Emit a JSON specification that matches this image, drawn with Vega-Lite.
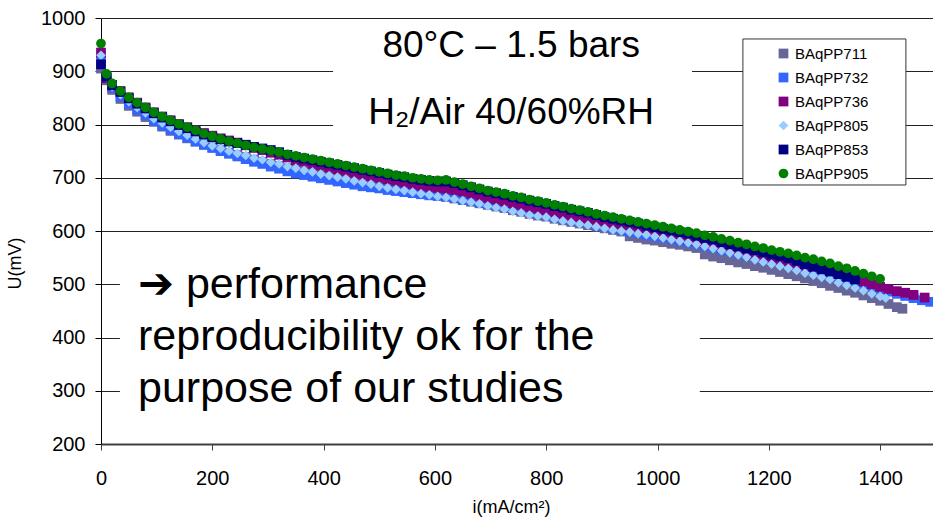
{
"$schema":"https://vega.github.io/schema/vega-lite/v6.json",
"width":832,"height":426,
"autosize":{"type":"none"},
"padding":{"left":101,"top":18,"right":0,"bottom":74},
"background":"white",
"config":{"view":{"stroke":null},"font":"Liberation Sans"},
"data":{"values":[
{"s":"BAqPP711","i":0,"u":905},{"s":"BAqPP711","i":10,"u":883},{"s":"BAqPP711","i":20,"u":865},{"s":"BAqPP711","i":35,"u":848},{"s":"BAqPP711","i":50,"u":835},{"s":"BAqPP711","i":65,"u":824},{"s":"BAqPP711","i":80,"u":814},{"s":"BAqPP711","i":95,"u":805},{"s":"BAqPP711","i":110,"u":796},{"s":"BAqPP711","i":125,"u":788},{"s":"BAqPP711","i":140,"u":781},{"s":"BAqPP711","i":155,"u":774},{"s":"BAqPP711","i":170,"u":768},{"s":"BAqPP711","i":185,"u":762},{"s":"BAqPP711","i":200,"u":757},{"s":"BAqPP711","i":215,"u":752},{"s":"BAqPP711","i":230,"u":747},{"s":"BAqPP711","i":245,"u":743},{"s":"BAqPP711","i":260,"u":739},{"s":"BAqPP711","i":275,"u":734},{"s":"BAqPP711","i":290,"u":730},{"s":"BAqPP711","i":305,"u":726},{"s":"BAqPP711","i":320,"u":722},{"s":"BAqPP711","i":335,"u":718},{"s":"BAqPP711","i":350,"u":715},{"s":"BAqPP711","i":365,"u":712},{"s":"BAqPP711","i":380,"u":709},{"s":"BAqPP711","i":395,"u":706},{"s":"BAqPP711","i":410,"u":703},{"s":"BAqPP711","i":425,"u":700},{"s":"BAqPP711","i":440,"u":697},{"s":"BAqPP711","i":455,"u":695},{"s":"BAqPP711","i":470,"u":692},{"s":"BAqPP711","i":485,"u":689},{"s":"BAqPP711","i":500,"u":686},{"s":"BAqPP711","i":515,"u":683},{"s":"BAqPP711","i":530,"u":680},{"s":"BAqPP711","i":545,"u":677},{"s":"BAqPP711","i":560,"u":674},{"s":"BAqPP711","i":575,"u":671},{"s":"BAqPP711","i":590,"u":669},{"s":"BAqPP711","i":605,"u":666},{"s":"BAqPP711","i":620,"u":664},{"s":"BAqPP711","i":635,"u":661},{"s":"BAqPP711","i":650,"u":658},{"s":"BAqPP711","i":665,"u":655},{"s":"BAqPP711","i":680,"u":652},{"s":"BAqPP711","i":695,"u":649},{"s":"BAqPP711","i":710,"u":646},{"s":"BAqPP711","i":725,"u":643},{"s":"BAqPP711","i":740,"u":639},{"s":"BAqPP711","i":755,"u":636},{"s":"BAqPP711","i":770,"u":632},{"s":"BAqPP711","i":785,"u":629},{"s":"BAqPP711","i":800,"u":627},{"s":"BAqPP711","i":815,"u":623},{"s":"BAqPP711","i":830,"u":620},{"s":"BAqPP711","i":845,"u":617},{"s":"BAqPP711","i":860,"u":614},{"s":"BAqPP711","i":875,"u":611},{"s":"BAqPP711","i":890,"u":608},{"s":"BAqPP711","i":905,"u":605},{"s":"BAqPP711","i":920,"u":602},{"s":"BAqPP711","i":935,"u":599},{"s":"BAqPP711","i":950,"u":590},{"s":"BAqPP711","i":965,"u":587},{"s":"BAqPP711","i":980,"u":584},{"s":"BAqPP711","i":995,"u":582},{"s":"BAqPP711","i":1010,"u":579},{"s":"BAqPP711","i":1025,"u":576},{"s":"BAqPP711","i":1040,"u":574},{"s":"BAqPP711","i":1055,"u":571},{"s":"BAqPP711","i":1070,"u":568},{"s":"BAqPP711","i":1085,"u":556},{"s":"BAqPP711","i":1100,"u":552},{"s":"BAqPP711","i":1115,"u":549},{"s":"BAqPP711","i":1130,"u":545},{"s":"BAqPP711","i":1145,"u":541},{"s":"BAqPP711","i":1160,"u":538},{"s":"BAqPP711","i":1175,"u":534},{"s":"BAqPP711","i":1190,"u":531},{"s":"BAqPP711","i":1205,"u":527},{"s":"BAqPP711","i":1220,"u":523},{"s":"BAqPP711","i":1235,"u":519},{"s":"BAqPP711","i":1250,"u":515},{"s":"BAqPP711","i":1265,"u":511},{"s":"BAqPP711","i":1280,"u":506},{"s":"BAqPP711","i":1295,"u":502},{"s":"BAqPP711","i":1310,"u":497},{"s":"BAqPP711","i":1325,"u":493},{"s":"BAqPP711","i":1340,"u":488},{"s":"BAqPP711","i":1355,"u":484},{"s":"BAqPP711","i":1370,"u":479},{"s":"BAqPP711","i":1385,"u":474},{"s":"BAqPP711","i":1400,"u":469},{"s":"BAqPP711","i":1415,"u":463},{"s":"BAqPP711","i":1430,"u":457},{"s":"BAqPP711","i":1440,"u":454},
{"s":"BAqPP732","i":0,"u":922},{"s":"BAqPP732","i":10,"u":887},{"s":"BAqPP732","i":20,"u":869},{"s":"BAqPP732","i":35,"u":853},{"s":"BAqPP732","i":50,"u":839},{"s":"BAqPP732","i":65,"u":828},{"s":"BAqPP732","i":80,"u":818},{"s":"BAqPP732","i":95,"u":807},{"s":"BAqPP732","i":110,"u":798},{"s":"BAqPP732","i":125,"u":790},{"s":"BAqPP732","i":140,"u":782},{"s":"BAqPP732","i":155,"u":775},{"s":"BAqPP732","i":170,"u":768},{"s":"BAqPP732","i":185,"u":762},{"s":"BAqPP732","i":200,"u":756},{"s":"BAqPP732","i":215,"u":750},{"s":"BAqPP732","i":230,"u":745},{"s":"BAqPP732","i":245,"u":740},{"s":"BAqPP732","i":260,"u":735},{"s":"BAqPP732","i":275,"u":730},{"s":"BAqPP732","i":290,"u":726},{"s":"BAqPP732","i":305,"u":721},{"s":"BAqPP732","i":320,"u":717},{"s":"BAqPP732","i":335,"u":712},{"s":"BAqPP732","i":350,"u":708},{"s":"BAqPP732","i":365,"u":705},{"s":"BAqPP732","i":380,"u":702},{"s":"BAqPP732","i":395,"u":699},{"s":"BAqPP732","i":410,"u":696},{"s":"BAqPP732","i":425,"u":693},{"s":"BAqPP732","i":440,"u":690},{"s":"BAqPP732","i":455,"u":687},{"s":"BAqPP732","i":470,"u":684},{"s":"BAqPP732","i":485,"u":682},{"s":"BAqPP732","i":500,"u":680},{"s":"BAqPP732","i":515,"u":677},{"s":"BAqPP732","i":530,"u":675},{"s":"BAqPP732","i":545,"u":673},{"s":"BAqPP732","i":560,"u":671},{"s":"BAqPP732","i":575,"u":669},{"s":"BAqPP732","i":590,"u":667},{"s":"BAqPP732","i":605,"u":666},{"s":"BAqPP732","i":620,"u":665},{"s":"BAqPP732","i":635,"u":662},{"s":"BAqPP732","i":650,"u":659},{"s":"BAqPP732","i":665,"u":657},{"s":"BAqPP732","i":680,"u":654},{"s":"BAqPP732","i":695,"u":651},{"s":"BAqPP732","i":710,"u":649},{"s":"BAqPP732","i":725,"u":646},{"s":"BAqPP732","i":740,"u":643},{"s":"BAqPP732","i":755,"u":640},{"s":"BAqPP732","i":770,"u":637},{"s":"BAqPP732","i":785,"u":634},{"s":"BAqPP732","i":800,"u":631},{"s":"BAqPP732","i":815,"u":627},{"s":"BAqPP732","i":830,"u":624},{"s":"BAqPP732","i":845,"u":621},{"s":"BAqPP732","i":860,"u":618},{"s":"BAqPP732","i":875,"u":615},{"s":"BAqPP732","i":890,"u":611},{"s":"BAqPP732","i":905,"u":608},{"s":"BAqPP732","i":920,"u":605},{"s":"BAqPP732","i":935,"u":602},{"s":"BAqPP732","i":950,"u":599},{"s":"BAqPP732","i":965,"u":596},{"s":"BAqPP732","i":980,"u":593},{"s":"BAqPP732","i":995,"u":590},{"s":"BAqPP732","i":1010,"u":588},{"s":"BAqPP732","i":1025,"u":585},{"s":"BAqPP732","i":1040,"u":582},{"s":"BAqPP732","i":1055,"u":579},{"s":"BAqPP732","i":1070,"u":576},{"s":"BAqPP732","i":1085,"u":572},{"s":"BAqPP732","i":1100,"u":569},{"s":"BAqPP732","i":1115,"u":565},{"s":"BAqPP732","i":1130,"u":562},{"s":"BAqPP732","i":1145,"u":558},{"s":"BAqPP732","i":1160,"u":555},{"s":"BAqPP732","i":1175,"u":551},{"s":"BAqPP732","i":1190,"u":548},{"s":"BAqPP732","i":1205,"u":544},{"s":"BAqPP732","i":1220,"u":541},{"s":"BAqPP732","i":1235,"u":538},{"s":"BAqPP732","i":1250,"u":534},{"s":"BAqPP732","i":1265,"u":530},{"s":"BAqPP732","i":1280,"u":527},{"s":"BAqPP732","i":1295,"u":523},{"s":"BAqPP732","i":1310,"u":519},{"s":"BAqPP732","i":1325,"u":514},{"s":"BAqPP732","i":1340,"u":510},{"s":"BAqPP732","i":1355,"u":505},{"s":"BAqPP732","i":1370,"u":500},{"s":"BAqPP732","i":1385,"u":495},{"s":"BAqPP732","i":1400,"u":490},{"s":"BAqPP732","i":1415,"u":486},{"s":"BAqPP732","i":1430,"u":482},{"s":"BAqPP732","i":1445,"u":478},{"s":"BAqPP732","i":1460,"u":474},{"s":"BAqPP732","i":1475,"u":470},{"s":"BAqPP732","i":1490,"u":467},
{"s":"BAqPP736","i":0,"u":935},{"s":"BAqPP736","i":10,"u":887},{"s":"BAqPP736","i":20,"u":873},{"s":"BAqPP736","i":35,"u":863},{"s":"BAqPP736","i":50,"u":851},{"s":"BAqPP736","i":65,"u":841},{"s":"BAqPP736","i":80,"u":832},{"s":"BAqPP736","i":95,"u":823},{"s":"BAqPP736","i":110,"u":815},{"s":"BAqPP736","i":125,"u":808},{"s":"BAqPP736","i":140,"u":801},{"s":"BAqPP736","i":155,"u":795},{"s":"BAqPP736","i":170,"u":789},{"s":"BAqPP736","i":185,"u":784},{"s":"BAqPP736","i":200,"u":779},{"s":"BAqPP736","i":215,"u":774},{"s":"BAqPP736","i":230,"u":770},{"s":"BAqPP736","i":245,"u":766},{"s":"BAqPP736","i":260,"u":761},{"s":"BAqPP736","i":275,"u":756},{"s":"BAqPP736","i":290,"u":752},{"s":"BAqPP736","i":305,"u":747},{"s":"BAqPP736","i":320,"u":743},{"s":"BAqPP736","i":335,"u":738},{"s":"BAqPP736","i":350,"u":733},{"s":"BAqPP736","i":365,"u":730},{"s":"BAqPP736","i":380,"u":726},{"s":"BAqPP736","i":395,"u":723},{"s":"BAqPP736","i":410,"u":719},{"s":"BAqPP736","i":425,"u":716},{"s":"BAqPP736","i":440,"u":713},{"s":"BAqPP736","i":455,"u":709},{"s":"BAqPP736","i":470,"u":706},{"s":"BAqPP736","i":485,"u":703},{"s":"BAqPP736","i":500,"u":700},{"s":"BAqPP736","i":515,"u":697},{"s":"BAqPP736","i":530,"u":694},{"s":"BAqPP736","i":545,"u":691},{"s":"BAqPP736","i":560,"u":688},{"s":"BAqPP736","i":575,"u":685},{"s":"BAqPP736","i":590,"u":683},{"s":"BAqPP736","i":605,"u":681},{"s":"BAqPP736","i":620,"u":679},{"s":"BAqPP736","i":635,"u":677},{"s":"BAqPP736","i":650,"u":674},{"s":"BAqPP736","i":665,"u":670},{"s":"BAqPP736","i":680,"u":666},{"s":"BAqPP736","i":695,"u":662},{"s":"BAqPP736","i":710,"u":659},{"s":"BAqPP736","i":725,"u":656},{"s":"BAqPP736","i":740,"u":652},{"s":"BAqPP736","i":755,"u":649},{"s":"BAqPP736","i":770,"u":645},{"s":"BAqPP736","i":785,"u":642},{"s":"BAqPP736","i":800,"u":639},{"s":"BAqPP736","i":815,"u":635},{"s":"BAqPP736","i":830,"u":632},{"s":"BAqPP736","i":845,"u":628},{"s":"BAqPP736","i":860,"u":625},{"s":"BAqPP736","i":875,"u":622},{"s":"BAqPP736","i":890,"u":618},{"s":"BAqPP736","i":905,"u":615},{"s":"BAqPP736","i":920,"u":612},{"s":"BAqPP736","i":935,"u":609},{"s":"BAqPP736","i":950,"u":606},{"s":"BAqPP736","i":965,"u":603},{"s":"BAqPP736","i":980,"u":600},{"s":"BAqPP736","i":995,"u":597},{"s":"BAqPP736","i":1010,"u":594},{"s":"BAqPP736","i":1025,"u":591},{"s":"BAqPP736","i":1040,"u":588},{"s":"BAqPP736","i":1055,"u":584},{"s":"BAqPP736","i":1070,"u":581},{"s":"BAqPP736","i":1085,"u":577},{"s":"BAqPP736","i":1100,"u":574},{"s":"BAqPP736","i":1115,"u":570},{"s":"BAqPP736","i":1130,"u":567},{"s":"BAqPP736","i":1145,"u":563},{"s":"BAqPP736","i":1160,"u":560},{"s":"BAqPP736","i":1175,"u":556},{"s":"BAqPP736","i":1190,"u":553},{"s":"BAqPP736","i":1205,"u":549},{"s":"BAqPP736","i":1220,"u":546},{"s":"BAqPP736","i":1235,"u":543},{"s":"BAqPP736","i":1250,"u":539},{"s":"BAqPP736","i":1265,"u":535},{"s":"BAqPP736","i":1280,"u":532},{"s":"BAqPP736","i":1295,"u":528},{"s":"BAqPP736","i":1310,"u":524},{"s":"BAqPP736","i":1325,"u":519},{"s":"BAqPP736","i":1340,"u":515},{"s":"BAqPP736","i":1355,"u":510},{"s":"BAqPP736","i":1370,"u":505},{"s":"BAqPP736","i":1385,"u":500},{"s":"BAqPP736","i":1400,"u":495},{"s":"BAqPP736","i":1415,"u":491},{"s":"BAqPP736","i":1430,"u":487},{"s":"BAqPP736","i":1445,"u":484},{"s":"BAqPP736","i":1460,"u":480},{"s":"BAqPP736","i":1480,"u":475},
{"s":"BAqPP805","i":0,"u":930},{"s":"BAqPP805","i":10,"u":889},{"s":"BAqPP805","i":20,"u":871},{"s":"BAqPP805","i":35,"u":856},{"s":"BAqPP805","i":50,"u":843},{"s":"BAqPP805","i":65,"u":832},{"s":"BAqPP805","i":80,"u":822},{"s":"BAqPP805","i":95,"u":811},{"s":"BAqPP805","i":110,"u":803},{"s":"BAqPP805","i":125,"u":795},{"s":"BAqPP805","i":140,"u":787},{"s":"BAqPP805","i":155,"u":780},{"s":"BAqPP805","i":170,"u":773},{"s":"BAqPP805","i":185,"u":766},{"s":"BAqPP805","i":200,"u":760},{"s":"BAqPP805","i":215,"u":755},{"s":"BAqPP805","i":230,"u":750},{"s":"BAqPP805","i":245,"u":746},{"s":"BAqPP805","i":260,"u":742},{"s":"BAqPP805","i":275,"u":737},{"s":"BAqPP805","i":290,"u":734},{"s":"BAqPP805","i":305,"u":729},{"s":"BAqPP805","i":320,"u":726},{"s":"BAqPP805","i":335,"u":721},{"s":"BAqPP805","i":350,"u":718},{"s":"BAqPP805","i":365,"u":714},{"s":"BAqPP805","i":380,"u":711},{"s":"BAqPP805","i":395,"u":707},{"s":"BAqPP805","i":410,"u":704},{"s":"BAqPP805","i":425,"u":701},{"s":"BAqPP805","i":440,"u":698},{"s":"BAqPP805","i":455,"u":694},{"s":"BAqPP805","i":470,"u":691},{"s":"BAqPP805","i":485,"u":688},{"s":"BAqPP805","i":500,"u":684},{"s":"BAqPP805","i":515,"u":681},{"s":"BAqPP805","i":530,"u":678},{"s":"BAqPP805","i":545,"u":676},{"s":"BAqPP805","i":560,"u":673},{"s":"BAqPP805","i":575,"u":670},{"s":"BAqPP805","i":590,"u":668},{"s":"BAqPP805","i":605,"u":665},{"s":"BAqPP805","i":620,"u":663},{"s":"BAqPP805","i":635,"u":660},{"s":"BAqPP805","i":650,"u":657},{"s":"BAqPP805","i":665,"u":654},{"s":"BAqPP805","i":680,"u":651},{"s":"BAqPP805","i":695,"u":647},{"s":"BAqPP805","i":710,"u":644},{"s":"BAqPP805","i":725,"u":641},{"s":"BAqPP805","i":740,"u":637},{"s":"BAqPP805","i":755,"u":634},{"s":"BAqPP805","i":770,"u":630},{"s":"BAqPP805","i":785,"u":628},{"s":"BAqPP805","i":800,"u":626},{"s":"BAqPP805","i":815,"u":622},{"s":"BAqPP805","i":830,"u":619},{"s":"BAqPP805","i":845,"u":616},{"s":"BAqPP805","i":860,"u":613},{"s":"BAqPP805","i":875,"u":611},{"s":"BAqPP805","i":890,"u":608},{"s":"BAqPP805","i":905,"u":605},{"s":"BAqPP805","i":920,"u":602},{"s":"BAqPP805","i":935,"u":600},{"s":"BAqPP805","i":950,"u":598},{"s":"BAqPP805","i":965,"u":595},{"s":"BAqPP805","i":980,"u":593},{"s":"BAqPP805","i":995,"u":590},{"s":"BAqPP805","i":1010,"u":587},{"s":"BAqPP805","i":1025,"u":584},{"s":"BAqPP805","i":1040,"u":581},{"s":"BAqPP805","i":1055,"u":578},{"s":"BAqPP805","i":1070,"u":575},{"s":"BAqPP805","i":1085,"u":571},{"s":"BAqPP805","i":1100,"u":567},{"s":"BAqPP805","i":1115,"u":563},{"s":"BAqPP805","i":1130,"u":559},{"s":"BAqPP805","i":1145,"u":555},{"s":"BAqPP805","i":1160,"u":551},{"s":"BAqPP805","i":1175,"u":546},{"s":"BAqPP805","i":1190,"u":542},{"s":"BAqPP805","i":1205,"u":538},{"s":"BAqPP805","i":1220,"u":534},{"s":"BAqPP805","i":1235,"u":530},{"s":"BAqPP805","i":1250,"u":526},{"s":"BAqPP805","i":1265,"u":521},{"s":"BAqPP805","i":1280,"u":517},{"s":"BAqPP805","i":1295,"u":513},{"s":"BAqPP805","i":1310,"u":509},{"s":"BAqPP805","i":1325,"u":503},{"s":"BAqPP805","i":1340,"u":498},{"s":"BAqPP805","i":1355,"u":493},{"s":"BAqPP805","i":1370,"u":488},{"s":"BAqPP805","i":1385,"u":482},{"s":"BAqPP805","i":1400,"u":477},{"s":"BAqPP805","i":1410,"u":474},
{"s":"BAqPP853","i":0,"u":913},{"s":"BAqPP853","i":10,"u":890},{"s":"BAqPP853","i":20,"u":874},{"s":"BAqPP853","i":35,"u":861},{"s":"BAqPP853","i":50,"u":849},{"s":"BAqPP853","i":65,"u":839},{"s":"BAqPP853","i":80,"u":830},{"s":"BAqPP853","i":95,"u":821},{"s":"BAqPP853","i":110,"u":813},{"s":"BAqPP853","i":125,"u":806},{"s":"BAqPP853","i":140,"u":799},{"s":"BAqPP853","i":155,"u":793},{"s":"BAqPP853","i":170,"u":787},{"s":"BAqPP853","i":185,"u":781},{"s":"BAqPP853","i":200,"u":776},{"s":"BAqPP853","i":215,"u":772},{"s":"BAqPP853","i":230,"u":768},{"s":"BAqPP853","i":245,"u":765},{"s":"BAqPP853","i":260,"u":762},{"s":"BAqPP853","i":275,"u":758},{"s":"BAqPP853","i":290,"u":755},{"s":"BAqPP853","i":305,"u":752},{"s":"BAqPP853","i":320,"u":748},{"s":"BAqPP853","i":335,"u":743},{"s":"BAqPP853","i":350,"u":739},{"s":"BAqPP853","i":365,"u":736},{"s":"BAqPP853","i":380,"u":733},{"s":"BAqPP853","i":395,"u":730},{"s":"BAqPP853","i":410,"u":727},{"s":"BAqPP853","i":425,"u":724},{"s":"BAqPP853","i":440,"u":721},{"s":"BAqPP853","i":455,"u":718},{"s":"BAqPP853","i":470,"u":715},{"s":"BAqPP853","i":485,"u":712},{"s":"BAqPP853","i":500,"u":709},{"s":"BAqPP853","i":515,"u":706},{"s":"BAqPP853","i":530,"u":703},{"s":"BAqPP853","i":545,"u":701},{"s":"BAqPP853","i":560,"u":698},{"s":"BAqPP853","i":575,"u":696},{"s":"BAqPP853","i":590,"u":694},{"s":"BAqPP853","i":605,"u":693},{"s":"BAqPP853","i":620,"u":693},{"s":"BAqPP853","i":635,"u":690},{"s":"BAqPP853","i":650,"u":686},{"s":"BAqPP853","i":665,"u":682},{"s":"BAqPP853","i":680,"u":678},{"s":"BAqPP853","i":695,"u":674},{"s":"BAqPP853","i":710,"u":671},{"s":"BAqPP853","i":725,"u":668},{"s":"BAqPP853","i":740,"u":664},{"s":"BAqPP853","i":755,"u":661},{"s":"BAqPP853","i":770,"u":657},{"s":"BAqPP853","i":785,"u":654},{"s":"BAqPP853","i":800,"u":651},{"s":"BAqPP853","i":815,"u":647},{"s":"BAqPP853","i":830,"u":644},{"s":"BAqPP853","i":845,"u":640},{"s":"BAqPP853","i":860,"u":637},{"s":"BAqPP853","i":875,"u":634},{"s":"BAqPP853","i":890,"u":630},{"s":"BAqPP853","i":905,"u":626},{"s":"BAqPP853","i":920,"u":623},{"s":"BAqPP853","i":935,"u":620},{"s":"BAqPP853","i":950,"u":617},{"s":"BAqPP853","i":965,"u":614},{"s":"BAqPP853","i":980,"u":610},{"s":"BAqPP853","i":995,"u":607},{"s":"BAqPP853","i":1010,"u":604},{"s":"BAqPP853","i":1025,"u":601},{"s":"BAqPP853","i":1040,"u":598},{"s":"BAqPP853","i":1055,"u":595},{"s":"BAqPP853","i":1070,"u":591},{"s":"BAqPP853","i":1085,"u":587},{"s":"BAqPP853","i":1100,"u":584},{"s":"BAqPP853","i":1115,"u":579},{"s":"BAqPP853","i":1130,"u":575},{"s":"BAqPP853","i":1145,"u":571},{"s":"BAqPP853","i":1160,"u":567},{"s":"BAqPP853","i":1175,"u":564},{"s":"BAqPP853","i":1190,"u":560},{"s":"BAqPP853","i":1205,"u":556},{"s":"BAqPP853","i":1220,"u":553},{"s":"BAqPP853","i":1235,"u":549},{"s":"BAqPP853","i":1250,"u":544},{"s":"BAqPP853","i":1265,"u":538},{"s":"BAqPP853","i":1280,"u":533},{"s":"BAqPP853","i":1295,"u":528},{"s":"BAqPP853","i":1310,"u":524},{"s":"BAqPP853","i":1325,"u":519},{"s":"BAqPP853","i":1340,"u":514},{"s":"BAqPP853","i":1355,"u":509},
{"s":"BAqPP905","i":0,"u":952},{"s":"BAqPP905","i":10,"u":895},{"s":"BAqPP905","i":20,"u":877},{"s":"BAqPP905","i":35,"u":863},{"s":"BAqPP905","i":50,"u":851},{"s":"BAqPP905","i":65,"u":841},{"s":"BAqPP905","i":80,"u":832},{"s":"BAqPP905","i":95,"u":823},{"s":"BAqPP905","i":110,"u":815},{"s":"BAqPP905","i":125,"u":808},{"s":"BAqPP905","i":140,"u":801},{"s":"BAqPP905","i":155,"u":795},{"s":"BAqPP905","i":170,"u":789},{"s":"BAqPP905","i":185,"u":783},{"s":"BAqPP905","i":200,"u":778},{"s":"BAqPP905","i":215,"u":773},{"s":"BAqPP905","i":230,"u":769},{"s":"BAqPP905","i":245,"u":765},{"s":"BAqPP905","i":260,"u":761},{"s":"BAqPP905","i":275,"u":757},{"s":"BAqPP905","i":290,"u":754},{"s":"BAqPP905","i":305,"u":751},{"s":"BAqPP905","i":320,"u":748},{"s":"BAqPP905","i":335,"u":744},{"s":"BAqPP905","i":350,"u":741},{"s":"BAqPP905","i":365,"u":738},{"s":"BAqPP905","i":380,"u":735},{"s":"BAqPP905","i":395,"u":732},{"s":"BAqPP905","i":410,"u":729},{"s":"BAqPP905","i":425,"u":726},{"s":"BAqPP905","i":440,"u":723},{"s":"BAqPP905","i":455,"u":720},{"s":"BAqPP905","i":470,"u":717},{"s":"BAqPP905","i":485,"u":714},{"s":"BAqPP905","i":500,"u":711},{"s":"BAqPP905","i":515,"u":708},{"s":"BAqPP905","i":530,"u":705},{"s":"BAqPP905","i":545,"u":703},{"s":"BAqPP905","i":560,"u":700},{"s":"BAqPP905","i":575,"u":698},{"s":"BAqPP905","i":590,"u":696},{"s":"BAqPP905","i":605,"u":695},{"s":"BAqPP905","i":620,"u":696},{"s":"BAqPP905","i":635,"u":692},{"s":"BAqPP905","i":650,"u":688},{"s":"BAqPP905","i":665,"u":684},{"s":"BAqPP905","i":680,"u":680},{"s":"BAqPP905","i":695,"u":676},{"s":"BAqPP905","i":710,"u":673},{"s":"BAqPP905","i":725,"u":670},{"s":"BAqPP905","i":740,"u":666},{"s":"BAqPP905","i":755,"u":663},{"s":"BAqPP905","i":770,"u":659},{"s":"BAqPP905","i":785,"u":656},{"s":"BAqPP905","i":800,"u":653},{"s":"BAqPP905","i":815,"u":649},{"s":"BAqPP905","i":830,"u":646},{"s":"BAqPP905","i":845,"u":642},{"s":"BAqPP905","i":860,"u":639},{"s":"BAqPP905","i":875,"u":636},{"s":"BAqPP905","i":890,"u":632},{"s":"BAqPP905","i":905,"u":629},{"s":"BAqPP905","i":920,"u":626},{"s":"BAqPP905","i":935,"u":623},{"s":"BAqPP905","i":950,"u":620},{"s":"BAqPP905","i":965,"u":617},{"s":"BAqPP905","i":980,"u":614},{"s":"BAqPP905","i":995,"u":611},{"s":"BAqPP905","i":1010,"u":608},{"s":"BAqPP905","i":1025,"u":605},{"s":"BAqPP905","i":1040,"u":602},{"s":"BAqPP905","i":1055,"u":599},{"s":"BAqPP905","i":1070,"u":596},{"s":"BAqPP905","i":1085,"u":592},{"s":"BAqPP905","i":1100,"u":589},{"s":"BAqPP905","i":1115,"u":585},{"s":"BAqPP905","i":1130,"u":582},{"s":"BAqPP905","i":1145,"u":578},{"s":"BAqPP905","i":1160,"u":575},{"s":"BAqPP905","i":1175,"u":571},{"s":"BAqPP905","i":1190,"u":568},{"s":"BAqPP905","i":1205,"u":564},{"s":"BAqPP905","i":1220,"u":561},{"s":"BAqPP905","i":1235,"u":558},{"s":"BAqPP905","i":1250,"u":554},{"s":"BAqPP905","i":1265,"u":550},{"s":"BAqPP905","i":1280,"u":547},{"s":"BAqPP905","i":1295,"u":543},{"s":"BAqPP905","i":1310,"u":539},{"s":"BAqPP905","i":1325,"u":534},{"s":"BAqPP905","i":1340,"u":530},{"s":"BAqPP905","i":1355,"u":525},{"s":"BAqPP905","i":1370,"u":520},{"s":"BAqPP905","i":1385,"u":515},{"s":"BAqPP905","i":1400,"u":510}
]},
"layer":[
{"data":{"values":[{}]},"mark":{"type":"rect","fill":"white"},
 "encoding":{"x":{"datum":417,"type":"quantitative","scale":{"domain":[0,1495],"nice":false}},"x2":{"datum":1062},"y":{"datum":752,"type":"quantitative","scale":{"domain":[200,1000],"nice":false}},"y2":{"datum":987}}},
{"data":{"values":[{}]},"mark":{"type":"rect","fill":"white"},
 "encoding":{"x":{"datum":34,"type":"quantitative"},"x2":{"datum":1076},"y":{"datum":245,"type":"quantitative"},"y2":{"datum":555}}},
{"data":{"values":[{}]},"mark":{"type":"rect","fill":"white","stroke":"#333333","strokeWidth":1},
 "encoding":{"x":{"datum":1153.4,"type":"quantitative"},"x2":{"datum":1446.3},"y":{"datum":686.4,"type":"quantitative"},"y2":{"datum":960.6}}},
{"mark":{"type":"point","filled":true,"opacity":1,"strokeWidth":0},
 "encoding":{
  "x":{"field":"i","type":"quantitative","scale":{"domain":[0,1495],"nice":false,"zero":false},
       "axis":{"title":"i(mA/cm²)","format":"d","values":[0,200,400,600,800,1000,1200,1400],"grid":false,"domainColor":"#404040","domainWidth":2,"tickColor":"#404040","tickSize":6,"labelFontSize":20,"labelColor":"black","labelFont":"Liberation Sans","labelPadding":18,"labelFlush":false,"titleFont":"Liberation Sans","titleFontSize":18,"titleFontWeight":"normal","titleColor":"black","titleX":410,"titleY":68,"titleBaseline":"alphabetic"}},
  "y":{"field":"u","type":"quantitative","scale":{"domain":[200,1000],"nice":false,"zero":false},
       "axis":{"title":"U(mV)","format":"d","values":[200,300,400,500,600,700,800,900,1000],"grid":true,"gridColor":"#222222","gridWidth":1,"domainColor":"black","tickColor":"black","tickSize":6,"labelFontSize":20,"labelColor":"black","labelFont":"Liberation Sans","labelPadding":10,"titleFont":"Liberation Sans","titleFontSize":18,"titleFontWeight":"normal","titleColor":"black","titleX":-77,"titleY":245}},
  "color":{"field":"s","type":"nominal","scale":{"domain":["BAqPP711","BAqPP732","BAqPP736","BAqPP805","BAqPP853","BAqPP905"],"range":["#666699","#3366FF","#800080","#99CCFF","#000080","#008000"]},
     "legend":{"title":null,"orient":"none","legendX":675,"legendY":28,"padding":0,"labelFontSize":15,"labelFont":"Liberation Sans","labelColor":"black","rowPadding":8,"symbolOffset":0,"labelOffset":4}},
  "shape":{"field":"s","type":"nominal","scale":{"domain":["BAqPP711","BAqPP732","BAqPP736","BAqPP805","BAqPP853","BAqPP905"],"range":["square","square","square","diamond","square","circle"]}},
  "size":{"field":"s","type":"nominal","scale":{"domain":["BAqPP711","BAqPP732","BAqPP736","BAqPP805","BAqPP853","BAqPP905"],"range":[95,95,95,130,95,130]}}
 }},
{"data":{"values":[{}]},"mark":{"type":"text","text":["80°C – 1.5 bars","H₂/Air 40/60%RH"],"lineHeight":67,"align":"center","baseline":"alphabetic","font":"Liberation Sans","fontSize":37,"color":"black"},
 "encoding":{"x":{"datum":737,"type":"quantitative"},"y":{"datum":927,"type":"quantitative"}}},
{"data":{"values":[{}]},"mark":{"type":"text","text":["➔ performance","reproducibility ok for the","purpose of our studies"],"lineHeight":52,"align":"left","baseline":"alphabetic","font":"Liberation Sans","fontSize":43,"color":"black"},
 "encoding":{"x":{"datum":66.5,"type":"quantitative"},"y":{"datum":474,"type":"quantitative"}}}
]
}
